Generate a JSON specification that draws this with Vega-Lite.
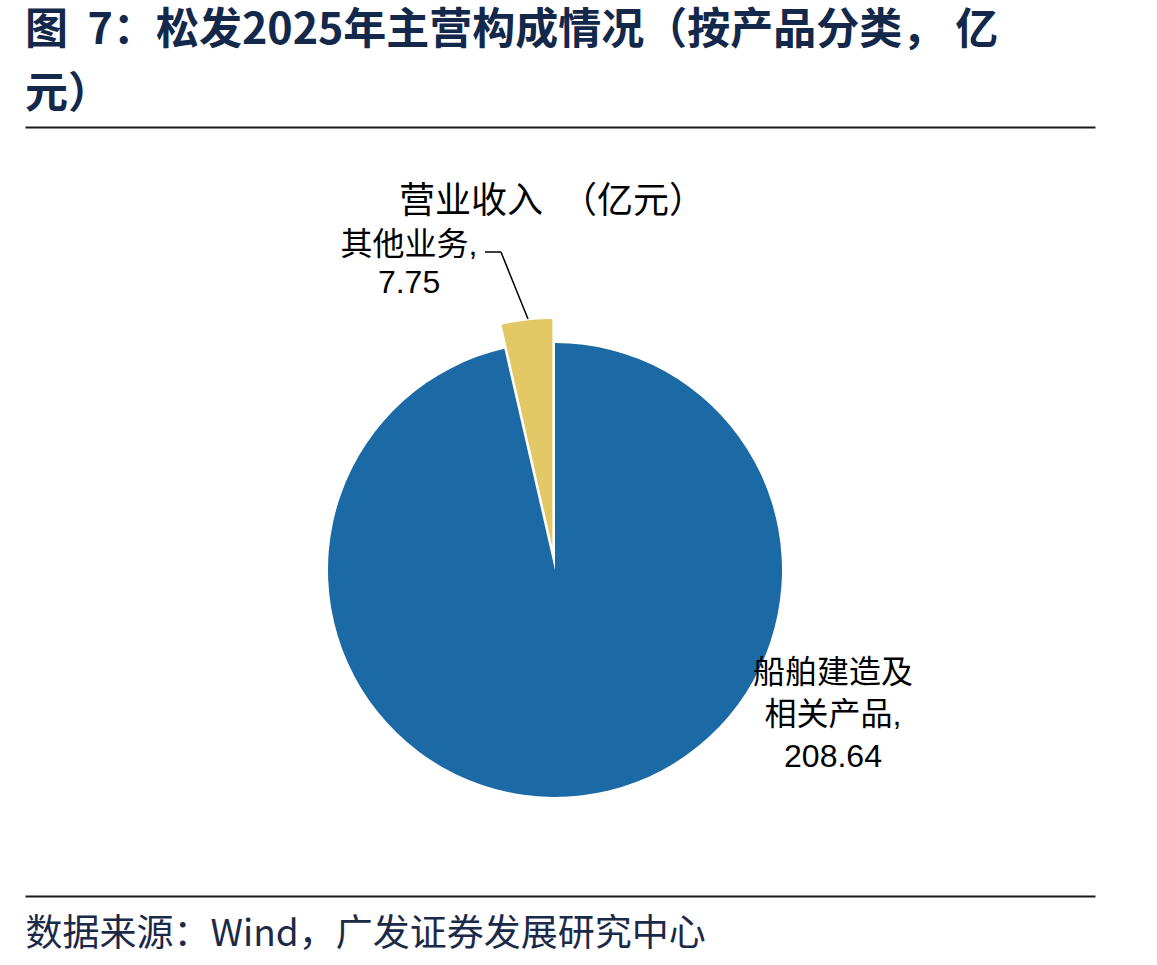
{
  "$schema": "https://vega.github.io/schema/vega-lite/v6.json",
  "width": 1070,
  "height": 769,
  "padding": {"left": 25, "top": 10, "right": 62, "bottom": 10},
  "background": "white",
  "title": {
    "text": ["图\u00a0\u00a07：松发2025年主营构成情况（按产品分类，\u00a0亿", "元）"],
    "anchor": "start",
    "frame": "group",
    "font": "Noto Sans CJK SC",
    "fontSize": 43,
    "fontWeight": "bold",
    "color": "#13284a",
    "lineHeight": 64,
    "offset": 10
  },
  "data": {
    "values": [
      {"category": "船舶建造及相关产品", "value": 208.64, "order": 1, "label": "船舶建造及\n相关产品,\n208.64"},
      {"category": "其他业务", "value": 7.75, "order": 2, "label": "其他业务,\n7.75"}
    ]
  },
  "transform": [
    {"stack": "value", "groupby": [], "sort": [{"field": "order", "order": "ascending"}], "as": ["v0", "v1"]}
  ],
  "layer": [
    {
      "mark": {"type": "point", "opacity": 0},
      "encoding": {
        "x": {
          "field": "value", "type": "quantitative",
          "axis": {
            "orient": "bottom", "domain": true, "domainColor": "#1a1a1a", "domainWidth": 2,
            "ticks": false, "labels": false, "grid": false,
            "title": "数据来源：Wind，广发证券发展研究中心",
            "titleAnchor": "start", "titleAlign": "left", "titleBaseline": "top",
            "titlePadding": 20, "titleFont": "Noto Sans CJK SC", "titleFontSize": 37,
            "titleFontWeight": "normal", "titleColor": "#1b2a48"
          }
        },
        "y": {
          "field": "value", "type": "quantitative",
          "scale": {"domain": [0, 250], "nice": false},
          "axis": {
            "values": [250], "grid": true, "gridColor": "#1a1a1a", "gridWidth": 2,
            "domain": false, "ticks": false, "labels": false, "title": null,
            "minExtent": 0, "maxExtent": 0
          }
        }
      }
    },
    {
      "transform": [{"filter": "datum.order == 1"}],
      "mark": {"type": "arc", "radius": 227, "xOffset": -5, "yOffset": 58.5},
      "encoding": {
        "theta": {"field": "v0", "type": "quantitative", "stack": null, "scale": {"domain": [0, 216.39]}},
        "theta2": {"field": "v1"},
        "color": {
          "field": "category", "type": "nominal",
          "scale": {"domain": ["船舶建造及相关产品", "其他业务"], "range": ["#1b6aa5", "#e3c866"]},
          "legend": null
        }
      }
    },
    {
      "transform": [{"filter": "datum.order == 2"}],
      "mark": {"type": "arc", "radius": 228, "xOffset": -7.6, "yOffset": 35.5},
      "encoding": {
        "theta": {"field": "v0", "type": "quantitative", "stack": null},
        "theta2": {"field": "v1"},
        "color": {"field": "category", "type": "nominal", "legend": null}
      }
    },
    {
      "transform": [{"filter": "datum.order == 2"}],
      "mark": {"type": "arc", "filled": false, "stroke": "#000000", "strokeWidth": 1.5, "theta": 5.9, "theta2": 5.9, "radius": 172.2, "radius2": 100, "xOffset": 5.4, "yOffset": -99.7},
      "encoding": {}
    },
    {
      "transform": [{"filter": "datum.order == 2"}],
      "mark": {"type": "arc", "filled": false, "stroke": "#000000", "strokeWidth": 1.5, "theta": 4.7124, "theta2": 4.7124, "radius": 66, "radius2": 50, "xOffset": -9, "yOffset": -259.5},
      "encoding": {}
    },
    {
      "transform": [{"filter": "datum.order == 1"}],
      "mark": {"type": "text", "radius": 368, "xOffset": -5, "yOffset": 58.5, "dx": -3, "font": "Noto Sans CJK SC", "fontSize": 36, "color": "#000000", "align": "center", "baseline": "middle"},
      "encoding": {
        "theta": {"field": "v0", "type": "quantitative", "stack": null},
        "text": {"value": "营业收入　（亿元）"}
      }
    },
    {
      "transform": [{"filter": "datum.order == 2"}],
      "mark": {"type": "text", "radius": 300, "xOffset": -5, "yOffset": 58.5, "dx": -79, "dy": -32.6, "font": "Liberation Sans, Noto Sans CJK SC", "fontSize": 32, "lineHeight": 38, "lineBreak": "\n", "color": "#000000", "align": "center", "baseline": "middle"},
      "encoding": {
        "theta": {"field": "v0", "type": "quantitative", "stack": null},
        "text": {"field": "label"}
      }
    },
    {
      "transform": [{"filter": "datum.order == 1"}],
      "mark": {"type": "text", "radius": 0, "xOffset": -5, "yOffset": 58.5, "dx": 278, "dy": 103, "font": "Liberation Sans, Noto Sans CJK SC", "fontSize": 32, "lineHeight": 42, "lineBreak": "\n", "color": "#000000", "align": "center", "baseline": "middle"},
      "encoding": {
        "theta": {"field": "v0", "type": "quantitative", "stack": null},
        "text": {"field": "label"}
      }
    }
  ],
  "config": {"view": {"stroke": null}}
}
